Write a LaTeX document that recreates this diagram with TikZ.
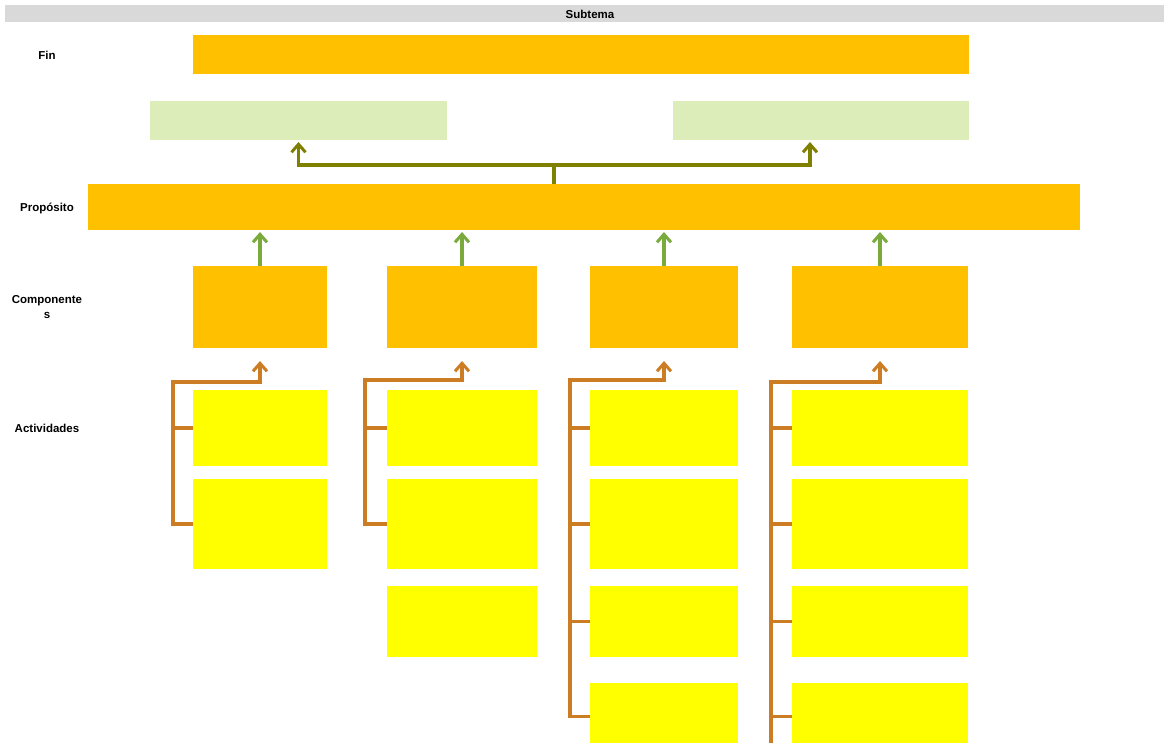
\documentclass[tikz,border=0pt]{standalone}
\usepackage{fontspec}
\setmainfont{Liberation Sans}
\usetikzlibrary{arrows.meta}
\definecolor{fillorange}{RGB}{255,192,0}
\definecolor{fillyellow}{RGB}{255,255,0}
\definecolor{fillgreen}{RGB}{220,237,185}
\definecolor{bargray}{RGB}{217,217,217}
\definecolor{olivec}{RGB}{128,128,0}
\definecolor{greenc}{RGB}{122,170,60}
\definecolor{orangec}{RGB}{204,124,34}
\tikzset{
  box/.style={inner sep=0pt, outer sep=0pt, anchor=north west, draw=none},
  orbox/.style={box, fill=fillorange},
  ylbox/.style={box, fill=fillyellow},
  grbox/.style={box, fill=fillgreen},
  lbl/.style={font=\fontsize{11.5}{15}\selectfont\bfseries, align=center, inner sep=0pt},
  tip/.style={-{Straight Barb[length=8pt,width=14pt,line width=3pt]}},
  oline/.style={draw=olivec, line width=3.2pt},
  gline/.style={draw=greenc, line width=3.2pt},
  bline/.style={draw=orangec, line width=3.2pt},
}
\begin{document}
\begin{tikzpicture}[x=1pt,y=-1pt]
\useasboundingbox (0,0) rectangle (1164,742);
\fill[white] (0,0) rectangle (1164,742);
% title bar
\node[box, fill=bargray, minimum width=1159pt, minimum height=17pt] (bar) at (5,5) {};
\node[lbl] (title) at (590,14) {Subtema};
% row labels
\node[lbl] (lfin) at (47,55) {Fin};
\node[lbl] (lprop) at (47,208) {Propósito};
\node[lbl] (lcomp) at (47,307) {Componente\\s};
\node[lbl] (lact) at (47,428) {Actividades};
% Fin
\node[orbox, minimum width=776pt, minimum height=39pt] (fin) at (193,35) {};
% green boxes
\node[grbox, minimum width=297pt, minimum height=39pt] (g1) at (150,101) {};
\node[grbox, minimum width=296pt, minimum height=39pt] (g2) at (673,101) {};
% Proposito
\node[orbox, minimum width=992pt, minimum height=46pt] (prop) at (88,184) {};
% Componentes
\node[orbox, minimum width=134pt, minimum height=82pt] (c1) at (193,266) {};
\node[orbox, minimum width=150pt, minimum height=82pt] (c2) at (387,266) {};
\node[orbox, minimum width=148pt, minimum height=82pt] (c3) at (590,266) {};
\node[orbox, minimum width=176pt, minimum height=82pt] (c4) at (792,266) {};
% Actividades col 1
\node[ylbox, minimum width=134pt, minimum height=76pt] (a11) at (193,390) {};
\node[ylbox, minimum width=134pt, minimum height=90pt] (a12) at (193,479) {};
% col 2
\node[ylbox, minimum width=150pt, minimum height=76pt] (a21) at (387,390) {};
\node[ylbox, minimum width=150pt, minimum height=90pt] (a22) at (387,479) {};
\node[ylbox, minimum width=150pt, minimum height=71pt] (a23) at (387,586) {};
% col 3
\node[ylbox, minimum width=148pt, minimum height=76pt] (a31) at (590,390) {};
\node[ylbox, minimum width=148pt, minimum height=90pt] (a32) at (590,479) {};
\node[ylbox, minimum width=148pt, minimum height=71pt] (a33) at (590,586) {};
\node[ylbox, minimum width=148pt, minimum height=67pt] (a34) at (590,683) {};
% col 4
\node[ylbox, minimum width=176pt, minimum height=76pt] (a41) at (792,390) {};
\node[ylbox, minimum width=176pt, minimum height=90pt] (a42) at (792,479) {};
\node[ylbox, minimum width=176pt, minimum height=71pt] (a43) at (792,586) {};
\node[ylbox, minimum width=176pt, minimum height=67pt] (a44) at (792,683) {};
% olive connectors Proposito -> green boxes
\coordinate (ob) at (554,165);
\draw[oline] (prop.north -| ob) -- (ob);
\draw[oline, tip] (ob) -| ([yshift=-2pt]g1.south);
\draw[oline, tip] (ob) -| ([xshift=-11pt,yshift=-2pt]g2.south);
% green connectors Componentes -> Proposito
\foreach \c in {c1,c2,c3,c4}
  \draw[gline, tip] (\c.north) -- ([yshift=-2pt]\c.north |- prop.south);
% orange brackets
\coordinate (k1) at (173,382);
\coordinate (k2) at (365,380);
\coordinate (k3) at (570,380);
\coordinate (k4) at (771,382);
\draw[bline, tip, line join=miter] (a12.west) -| (k1) -| ([yshift=-13pt]c1.south);
\draw[bline] (a11.west) -- (a11.west -| k1);
\draw[bline, tip, line join=miter] (a22.west) -| (k2) -| ([yshift=-13pt]c2.south);
\draw[bline] (a21.west) -- (a21.west -| k2);
\draw[bline, tip, line join=miter] (a34.west) -| (k3) -| ([yshift=-13pt]c3.south);
\draw[bline] (a31.west) -- (a31.west -| k3);
\draw[bline] (a32.west) -- (a32.west -| k3);
\draw[bline] (a33.west) -- (a33.west -| k3);
\coordinate (k4b) at (771,750);
\draw[bline, tip, line join=miter] (k4b) -- (k4) -| ([yshift=-13pt]c4.south);
\draw[bline] (a41.west) -- (a41.west -| k4);
\draw[bline] (a42.west) -- (a42.west -| k4);
\draw[bline] (a43.west) -- (a43.west -| k4);
\draw[bline] (a44.west) -- (a44.west -| k4);
\end{tikzpicture}
\end{document}
